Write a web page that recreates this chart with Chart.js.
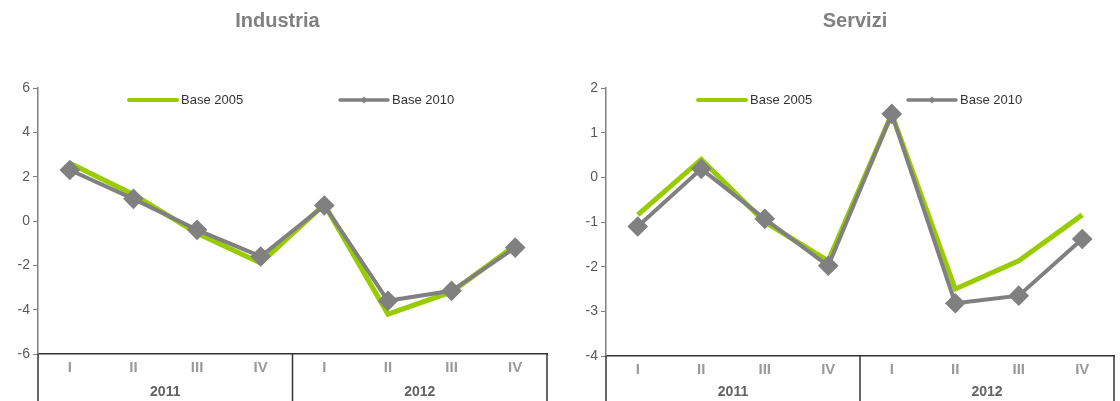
<!DOCTYPE html>
<html>
<head>
<meta charset="utf-8">
<script src="https://cdn.jsdelivr.net/npm/chart.js@4/dist/chart.umd.min.js"></script>
<style>
  html, body { margin: 0; padding: 0; background: #fff; overflow: hidden; }
  #wrap { position: relative; width: 1120px; height: 401px; overflow: hidden; }
  canvas { position: absolute; top: 0; display: block; }
  .title { position: absolute; top: 9px; font: bold 20px "Liberation Sans", Arial, sans-serif; color: #808080; text-align: center; }
</style>
</head>
<body>
<div id="wrap">
  <canvas id="cInd" width="560" height="401" style="left:0"></canvas>
  <canvas id="cSer" width="560" height="401" style="left:560px"></canvas>
  <div class="title" style="left:0;width:555px">Industria</div>
  <div class="title" style="left:620px;width:470px">Servizi</div>
</div>
<script>
// dati
const quarters = ['I', 'II', 'III', 'IV', 'I', 'II', 'III', 'IV'];
const years = ['2011', '2012'];
const seriesNames = ['Base 2005', 'Base 2010'];
const industria2005 = [2.6, 1.2, -0.55, -1.9, 0.75, -4.2, -3.2, -1.1];
const industria2010 = [2.3, 1.0, -0.4, -1.6, 0.7, -3.6, -3.15, -1.2];
const servizi2005 = [-0.84, 0.4, -1.0, -1.87, 1.42, -2.5, -1.87, -0.84];
const servizi2010 = [-1.1, 0.19, -0.93, -1.98, 1.42, -2.82, -2.65, -1.38];

const GREEN = '#99CC00';
const GREY = '#808080';

// etichette anni e riquadro sotto l'asse x
const yearsPlugin = {
    id: 'years',
    afterDraw(chart) {
        const ctx = chart.ctx;
        const x = chart.scales.x;
        const mid = (x.getPixelForValue(3) + x.getPixelForValue(4)) / 2;
        ctx.save();
        ctx.strokeStyle = '#333';
        ctx.lineWidth = 1.5;
        [x.left, mid, x.right].forEach(px => {
            ctx.beginPath();
            ctx.moveTo(px, x.top);
            ctx.lineTo(px, chart.height);
            ctx.stroke();
        });
        ctx.fillStyle = '#626262';
        ctx.font = 'bold 14px "Liberation Sans Narrow", "Liberation Sans", Arial, sans-serif';
        ctx.textAlign = 'center';
        ctx.textBaseline = 'middle';
        ctx.fillText(years[0], (x.left + mid) / 2, 392);
        ctx.fillText(years[1], (mid + x.right) / 2, 392);
        ctx.restore();
    }
};

// legenda dentro l'area del grafico
const legendPlugin = {
    id: 'inLegend',
    afterDraw(chart, args, opts) {
        const ctx = chart.ctx;
        const y = opts.y;
        ctx.save();
        ctx.font = '13px "Liberation Sans", Arial, sans-serif';
        ctx.textBaseline = 'middle';
        ctx.fillStyle = '#333';
        chart.data.datasets.forEach((ds, i) => {
            const x0 = opts.xs[i];
            ctx.strokeStyle = ds.borderColor;
            ctx.lineWidth = i === 0 ? 4 : 3.5;
            ctx.lineCap = 'round';
            ctx.beginPath();
            ctx.moveTo(x0, y);
            ctx.lineTo(x0 + 48, y);
            ctx.stroke();
            if (i === 1) {
                ctx.fillStyle = ds.borderColor;
                ctx.beginPath();
                ctx.moveTo(x0 + 24, y - 3.5);
                ctx.lineTo(x0 + 27.5, y);
                ctx.lineTo(x0 + 24, y + 3.5);
                ctx.lineTo(x0 + 20.5, y);
                ctx.closePath();
                ctx.fill();
                ctx.fillStyle = '#333';
            }
            ctx.fillText(ds.label, x0 + 52, y);
        });
        ctx.restore();
    }
};

function makeChart(id, d2005, d2010, yMin, yMax, step, axisW, axisH, padRight, legendXs) {
    new Chart(document.getElementById(id), {
        type: 'line',
        data: {
            labels: quarters,
            datasets: [{
                label: seriesNames[0],
                data: d2005,
                borderColor: GREEN,
                backgroundColor: GREEN,
                borderWidth: 5,
                pointRadius: 0,
                tension: 0,
                order: 1
            }, {
                label: seriesNames[1],
                data: d2010,
                borderColor: GREY,
                backgroundColor: GREY,
                borderWidth: 4,
                pointStyle: 'rectRot',
                pointRadius: 7.5,
                tension: 0,
                order: 0
            }]
        },
        options: {
            responsive: false,
            animation: false,
            layout: { autoPadding: false, padding: { top: 88, right: padRight, left: 0, bottom: 0 } },
            plugins: {
                legend: { display: false },
                tooltip: { enabled: false },
                inLegend: { xs: legendXs, y: 100 }
            },
            scales: {
                x: {
                    offset: true,
                    grid: { display: false, drawTicks: false },
                    border: { display: true, color: '#333', width: 1.5 },
                    ticks: {
                        color: '#9a9a9a',
                        font: { family: '"Liberation Sans Narrow", "Liberation Sans", Arial', size: 15, weight: 'bold' },
                        padding: 5,
                        maxRotation: 0,
                        autoSkip: false
                    },
                    afterFit: s => { s.height = axisH; s.paddingLeft = 0; s.paddingRight = 0; }
                },
                y: {
                    min: yMin,
                    max: yMax,
                    grid: { drawOnChartArea: false, drawTicks: true, tickLength: 5, color: GREY },
                    border: { display: true, color: GREY, width: 1.5 },
                    ticks: {
                        stepSize: step,
                        color: '#595959',
                        font: { family: '"Liberation Sans", Arial', size: 14 },
                        padding: 3
                    },
                    afterFit: s => { s.width = axisW; }
                }
            }
        },
        plugins: [yearsPlugin, legendPlugin]
    });
}

makeChart('cInd', industria2005, industria2010, -6, 6, 2, 38, 47, 13, [129, 340]);
makeChart('cSer', servizi2005, servizi2010, -4, 2, 1, 46, 45, 6, [138, 348]);
</script>
</body>
</html>
